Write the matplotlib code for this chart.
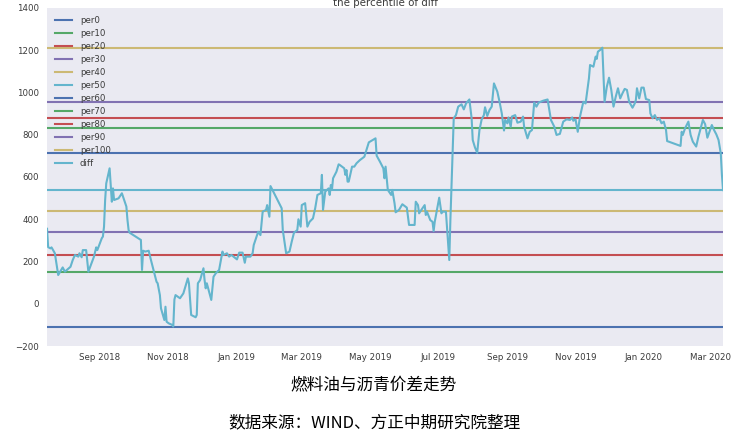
import pandas as pd
import matplotlib
matplotlib.use("Agg")
import matplotlib.pyplot as plt
import matplotlib.dates as mdates

# ── Data ───────────────────────────────────────────────────────
per_labels = ["per0", "per10", "per20", "per30", "per40", "per50",
              "per60", "per70", "per80", "per90", "per100"]
per_values = [-108, 149, 230, 341, 439, 537, 713, 832, 880, 956, 1212]

diff_dates = [
    "2018-07-16", "2018-07-17", "2018-07-19", "2018-07-20", "2018-07-23", "2018-07-26",
    "2018-07-30", "2018-08-01", "2018-08-06", "2018-08-08", "2018-08-10", "2018-08-13",
    "2018-08-14", "2018-08-16", "2018-08-17", "2018-08-20", "2018-08-22", "2018-08-27",
    "2018-08-29", "2018-08-30", "2018-09-03", "2018-09-04", "2018-09-05", "2018-09-06",
    "2018-09-07", "2018-09-10", "2018-09-12", "2018-09-13", "2018-09-14", "2018-09-18",
    "2018-09-21", "2018-09-25", "2018-09-26", "2018-09-27", "2018-09-28", "2018-10-08",
    "2018-10-09", "2018-10-10", "2018-10-12", "2018-10-15", "2018-10-17", "2018-10-22",
    "2018-10-23", "2018-10-25", "2018-10-26", "2018-10-29", "2018-10-30", "2018-10-31",
    "2018-11-02", "2018-11-05", "2018-11-06", "2018-11-07", "2018-11-08", "2018-11-12",
    "2018-11-15", "2018-11-19", "2018-11-20", "2018-11-22", "2018-11-26", "2018-11-27",
    "2018-11-28", "2018-11-30", "2018-12-03", "2018-12-04", "2018-12-05", "2018-12-06",
    "2018-12-10", "2018-12-12", "2018-12-14", "2018-12-17", "2018-12-20", "2018-12-21",
    "2018-12-24", "2018-12-26", "2018-12-28", "2019-01-02", "2019-01-04", "2019-01-07",
    "2019-01-09", "2019-01-10", "2019-01-14", "2019-01-16", "2019-01-17", "2019-01-21",
    "2019-01-23", "2019-01-25", "2019-01-28", "2019-01-29", "2019-01-31", "2019-02-01",
    "2019-02-11", "2019-02-12", "2019-02-15", "2019-02-18", "2019-02-20", "2019-02-22",
    "2019-02-25", "2019-02-26", "2019-02-28", "2019-03-01", "2019-03-04", "2019-03-06",
    "2019-03-08", "2019-03-11", "2019-03-13", "2019-03-15", "2019-03-18", "2019-03-19",
    "2019-03-20", "2019-03-22", "2019-03-25", "2019-03-26", "2019-03-27", "2019-03-28",
    "2019-03-29", "2019-04-01", "2019-04-03", "2019-04-04", "2019-04-08", "2019-04-09",
    "2019-04-10", "2019-04-11", "2019-04-12", "2019-04-15", "2019-04-17", "2019-04-19",
    "2019-04-22", "2019-04-24", "2019-04-26", "2019-04-29", "2019-04-30", "2019-05-06",
    "2019-05-07", "2019-05-10", "2019-05-13", "2019-05-14", "2019-05-15", "2019-05-17",
    "2019-05-20", "2019-05-21", "2019-05-23", "2019-05-24", "2019-05-27", "2019-05-30",
    "2019-06-03", "2019-06-05", "2019-06-10", "2019-06-11", "2019-06-13", "2019-06-14",
    "2019-06-17", "2019-06-19", "2019-06-20", "2019-06-21", "2019-06-24", "2019-06-26",
    "2019-06-27", "2019-06-28", "2019-07-02", "2019-07-04", "2019-07-05", "2019-07-08",
    "2019-07-11", "2019-07-12", "2019-07-15", "2019-07-17", "2019-07-19", "2019-07-22",
    "2019-07-24", "2019-07-26", "2019-07-29", "2019-07-31", "2019-08-01", "2019-08-03",
    "2019-08-05", "2019-08-07", "2019-08-09", "2019-08-11", "2019-08-12", "2019-08-14",
    "2019-08-16", "2019-08-18", "2019-08-20", "2019-08-23", "2019-08-25", "2019-08-27",
    "2019-08-29", "2019-08-30", "2019-09-01", "2019-09-02", "2019-09-04", "2019-09-05",
    "2019-09-08", "2019-09-10", "2019-09-13", "2019-09-15", "2019-09-16", "2019-09-19",
    "2019-09-21", "2019-09-23", "2019-09-25", "2019-09-27", "2019-09-29", "2019-10-03",
    "2019-10-07", "2019-10-10", "2019-10-13", "2019-10-15", "2019-10-18", "2019-10-21",
    "2019-10-24", "2019-10-27", "2019-10-29", "2019-10-30", "2019-11-01", "2019-11-03",
    "2019-11-05", "2019-11-08", "2019-11-10", "2019-11-13", "2019-11-14", "2019-11-17",
    "2019-11-19", "2019-11-20", "2019-11-21", "2019-11-23", "2019-11-25", "2019-11-27",
    "2019-11-29", "2019-12-01", "2019-12-03", "2019-12-05", "2019-12-07", "2019-12-09",
    "2019-12-11", "2019-12-13", "2019-12-15", "2019-12-17", "2019-12-19", "2019-12-22",
    "2019-12-24", "2019-12-25", "2019-12-26", "2019-12-28", "2019-12-30", "2020-01-01",
    "2020-01-03", "2020-01-06", "2020-01-07", "2020-01-09", "2020-01-11", "2020-01-13",
    "2020-01-15", "2020-01-17", "2020-01-19", "2020-01-21", "2020-01-22", "2020-02-03",
    "2020-02-04", "2020-02-05", "2020-02-07", "2020-02-10", "2020-02-12", "2020-02-14",
    "2020-02-17", "2020-02-19", "2020-02-21", "2020-02-23", "2020-02-25", "2020-02-27",
    "2020-03-02", "2020-03-04", "2020-03-06", "2020-03-08", "2020-03-10", "2020-03-11",
    "2020-03-12",
]
diff_values = [
    355, 268, 262, 267, 239, 136,
    172, 152, 175, 207, 231, 223,
    239, 220, 254, 254, 152, 223,
    267, 254, 310, 318, 365, 491,
    570, 641, 483, 546, 491, 499,
    523, 460, 396, 349, 336, 302,
    160, 251, 247, 251, 207, 104,
    97, 41, -22, -77, -14, -85,
    -93, -100, -108, 20, 41, 26,
    49, 120, 97, -53, -64, -53,
    97, 112, 168, 112, 73, 97,
    18, 128, 144, 160, 247, 231,
    239, 223, 231, 210, 242, 242,
    194, 223, 223, 239, 278, 341,
    325, 436, 444, 467, 412, 557,
    452, 349, 239, 247, 294, 336,
    349, 400, 365, 467, 476, 365,
    388, 404, 452, 515, 523, 610,
    444, 531, 546, 515, 562, 539,
    594, 625, 660, 657, 641, 610,
    633, 578, 578, 649, 649, 665,
    680, 688, 696, 748, 764, 783,
    701, 672, 641, 594, 649, 539,
    515, 539, 476, 433, 444, 471,
    455, 373, 373, 483, 467, 428,
    452, 467, 420, 436, 396, 388,
    344, 388, 502, 428, 436, 436,
    207, 396, 878, 893, 933, 944,
    920, 948, 967, 878, 775, 740,
    715, 822, 873, 893, 930, 889,
    917, 933, 1043, 1004, 956, 901,
    820, 870, 854, 882, 838, 886,
    893, 857, 862, 886, 838, 783,
    814, 822, 952, 933, 952, 961,
    967, 870, 838, 799, 804, 862,
    873, 870, 882, 866, 873, 814,
    886, 956, 948, 1067, 1130, 1122,
    1170, 1159, 1193, 1201, 1212, 956,
    1027, 1070, 1012, 933, 980, 1020,
    972, 996, 1017, 1012, 956, 928,
    948, 964, 1020, 972, 1023, 1023,
    969, 964, 901, 878, 893, 870,
    878, 854, 862, 822, 770, 747,
    814, 799, 830, 862, 799, 767,
    744, 791, 830, 870, 850, 786,
    846, 822, 802, 775, 712, 612,
    538,
]

title_text = "the percentile of diff"
caption_1 = "燃料油与沥青价差走势"
caption_2 = "数据来源：WIND、方正中期研究院整理"

# old seaborn "deep" palette, cycled over the 12 series
palette = ["#4C72B0", "#55A868", "#C44E52", "#8172B2", "#CCB974", "#64B5CD"]
text_color = "#3a3a3a"

dates = pd.to_datetime(diff_dates)

# ── Figure ─────────────────────────────────────────────────────
fig = plt.figure(figsize=(7.49, 4.36), dpi=100)
fig.patch.set_facecolor("white")
ax = fig.add_axes([0.0628, 0.2064, 0.9025, 0.7753])
ax.set_facecolor("#EAEAF2")
for sp in ax.spines.values():
    sp.set_visible(False)

# percentile levels
for i, (lab, val) in enumerate(zip(per_labels, per_values)):
    ax.axhline(val, color=palette[i % 6], linewidth=1.5, label=lab)

# spread series
ax.plot(dates, diff_values, color=palette[5], linewidth=1.5, label="diff")

ax.set_xlim(dates[0], dates[-1])
ax.set_ylim(-200, 1400)
ax.set_yticks(range(-200, 1401, 200))

ax.xaxis.set_major_locator(mdates.MonthLocator(bymonth=[1, 3, 5, 7, 9, 11]))
ax.xaxis.set_major_formatter(mdates.DateFormatter("%b %Y"))
ax.xaxis.set_minor_locator(plt.NullLocator())
ax.tick_params(axis="both", length=0, labelsize=6.2, labelcolor=text_color)
ax.tick_params(axis="y", pad=6)
ax.tick_params(axis="x", pad=5)
ax.grid(False)

# title sits mostly above the canvas, as in the source screenshot
ax.set_title(title_text, fontsize=7.4, color=text_color, pad=1.0)

leg = ax.legend(loc="upper left", frameon=False, fontsize=6.2,
                labelspacing=0.47, handlelength=2.0, handletextpad=0.9)
for t in leg.get_texts():
    t.set_color(text_color)

# ── Captions below the chart ───────────────────────────────────
cjk = ["Noto Sans CJK SC", "DejaVu Sans"]
fig.text(0.4993, 1 - 386 / 436, caption_1, ha="center", va="center",
         fontsize=12, family=cjk, color="black")
fig.text(0.4993, 1 - 423 / 436, caption_2, ha="center", va="center",
         fontsize=12, family=cjk, color="black")

fig.savefig("out.png", dpi=100)
